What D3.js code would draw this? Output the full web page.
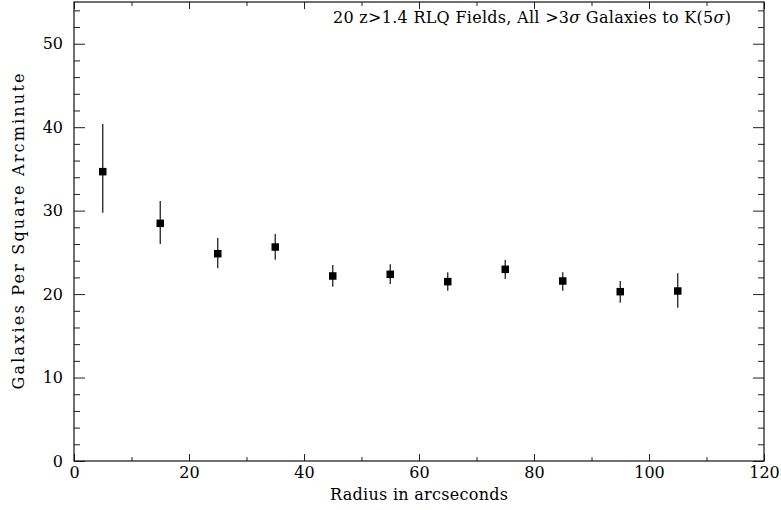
<!DOCTYPE html>
<html>
<head>
<meta charset="utf-8">
<script src="https://cdn.jsdelivr.net/npm/d3@7"></script>
<style>
  body { margin: 0; background: #fff; }
  text { font-family: "DejaVu Serif", serif; fill: #000; }
</style>
</head>
<body>
<div id="chart"></div>
<script>
// data
var radius = [5, 15, 25, 35, 45, 55, 65, 75, 85, 95, 105];
var density = [34.67, 28.48, 24.84, 25.64, 22.17, 22.37, 21.49, 22.97, 21.57, 20.29, 20.37];
var errLow = [29.75, 26.0, 23.09, 24.12, 20.89, 21.21, 20.41, 21.81, 20.41, 18.97, 18.37];
var errHigh = [40.38, 31.16, 26.72, 27.2, 23.49, 23.57, 22.61, 24.09, 22.61, 21.57, 22.49];
var xMajor = [0, 20, 40, 60, 80, 100, 120];
var yMajor = [0, 10, 20, 30, 40, 50];

var svgWidth = 781;
var svgHeight = 510;

var margin = { top: 2, right: 17, bottom: 49, left: 74 };
var width = svgWidth - margin.left - margin.right;
var height = svgHeight - margin.top - margin.bottom;

var svg = d3.select("#chart")
  .append("svg")
  .attr("width", svgWidth)
  .attr("height", svgHeight);

var g = svg.append("g")
  .attr("transform", `translate(${margin.left}, ${margin.top})`);

var x = d3.scaleLinear().domain([0, 120]).range([0, width]);
var y = d3.scaleLinear().domain([0, 55]).range([height, 0]);

var xMinor = d3.range(0, 121, 10).filter(d => xMajor.indexOf(d) < 0);
var yMinor = d3.range(0, 55, 2).filter(d => yMajor.indexOf(d) < 0);

// ticks on all four sides, pointing inward
function drawAxis(axis, transform) {
  var a = g.append("g").attr("transform", transform).call(axis);
  a.select(".domain").remove();
  a.selectAll("line").attr("stroke", "#222").attr("stroke-width", 1);
  a.selectAll("text").style("font-size", "16px").attr("font-family", "DejaVu Serif");
  return a;
}

// bottom
drawAxis(d3.axisBottom(x).tickValues(xMajor).tickSize(-7).tickPadding(6).tickFormat(d3.format("d")),
  `translate(0, ${height})`);
drawAxis(d3.axisBottom(x).tickValues(xMinor).tickSize(-4).tickFormat(""),
  `translate(0, ${height})`);
// top
drawAxis(d3.axisTop(x).tickValues(xMajor).tickSize(-7).tickFormat(""), "translate(0, 0)");
drawAxis(d3.axisTop(x).tickValues(xMinor).tickSize(-4).tickFormat(""), "translate(0, 0)");
// left
drawAxis(d3.axisLeft(y).tickValues(yMajor).tickSize(-11).tickPadding(11).tickFormat(d3.format("d")),
  "translate(0, 0)");
drawAxis(d3.axisLeft(y).tickValues(yMinor).tickSize(-6).tickFormat(""), "translate(0, 0)");
// right
drawAxis(d3.axisRight(y).tickValues(yMajor).tickSize(-11).tickFormat(""), `translate(${width}, 0)`);
drawAxis(d3.axisRight(y).tickValues(yMinor).tickSize(-6).tickFormat(""), `translate(${width}, 0)`);

// frame
g.append("rect")
  .attr("x", 0).attr("y", 0)
  .attr("width", width).attr("height", height)
  .attr("fill", "none")
  .attr("stroke", "#111")
  .attr("stroke-width", 1.2);

var points = radius.map((r, i) => ({ r: r, v: density[i], lo: errLow[i], hi: errHigh[i] }));

// error bars
g.selectAll(".errbar")
  .data(points)
  .enter()
  .append("line")
  .attr("class", "errbar")
  .attr("x1", d => x(d.r))
  .attr("x2", d => x(d.r))
  .attr("y1", d => y(d.lo))
  .attr("y2", d => y(d.hi))
  .attr("stroke", "#222")
  .attr("stroke-width", 1.3);

// square markers
var s = 7.5;
g.selectAll(".pt")
  .data(points)
  .enter()
  .append("rect")
  .attr("class", "pt")
  .attr("x", d => x(d.r) - s / 2)
  .attr("y", d => y(d.v) - s / 2)
  .attr("width", s)
  .attr("height", s)
  .attr("fill", "#000");

// title inside the frame
var title = svg.append("text")
  .attr("x", 333)
  .attr("y", 23)
  .attr("textLength", 398)
  .attr("lengthAdjust", "spacing")
  .style("font-size", "16px");
title.append("tspan").text("20 z>1.4 RLQ Fields, All >3");
title.append("tspan").style("font-style", "italic").text("σ");
title.append("tspan").text(" Galaxies to K(5");
title.append("tspan").style("font-style", "italic").text("σ");
title.append("tspan").text(")");

// axis labels
svg.append("text")
  .attr("x", margin.left + width / 2)
  .attr("y", 500)
  .attr("text-anchor", "middle")
  .attr("textLength", 178)
  .attr("lengthAdjust", "spacing")
  .style("font-size", "16px")
  .text("Radius in arcseconds");

svg.append("text")
  .attr("transform", `translate(24, ${margin.top + height / 2}) rotate(-90)`)
  .attr("text-anchor", "middle")
  .attr("textLength", 316)
  .attr("lengthAdjust", "spacing")
  .style("font-size", "16px")
  .text("Galaxies Per Square Arcminute");
</script>
</body>
</html>
